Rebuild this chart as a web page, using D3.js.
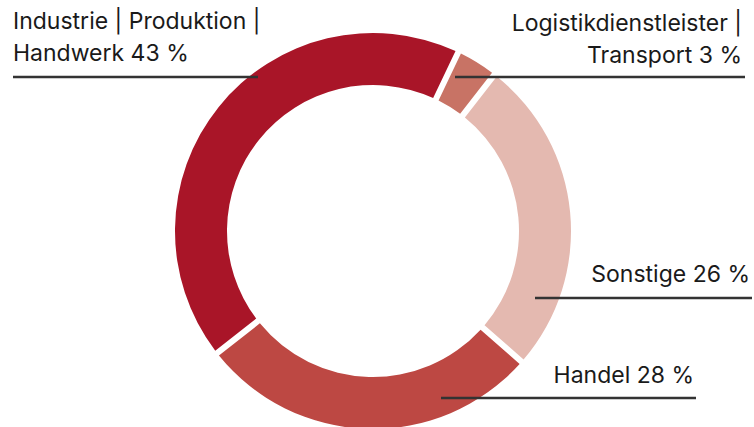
<!DOCTYPE html>
<html>
<head>
<meta charset="utf-8">
<script src="https://cdn.jsdelivr.net/npm/d3@7"></script>
<style>
  html, body { margin: 0; padding: 0; background: #fff; }
  svg { display: block; }
</style>
</head>
<body>
<div id="chart"></div>
<script>
// data, clockwise from the top
const categories = ["Logistikdienstleister | Transport", "Sonstige", "Handel", "Industrie | Produktion | Handwerk"];
const shares = [3, 26, 28, 43];
const colors = ["#c87365", "#e4b9b0", "#bd4843", "#a91528"];
const labelLines = [
  ["Logistikdienstleister |", "Transport 3 %"],
  ["Sonstige 26 %"],
  ["Handel 28 %"],
  ["Industrie | Produktion |", "Handwerk 43 %"]
];

const width = 754, height = 427;
const cx = 373, cy = 231;
const outerR = 198, innerR = 146;
const gap = 6;

// label layout: anchor, text x, last baseline y, underline x0/x1 and y
const layout = [
  { anchor: "end",   x: 742, y: 63,  x0: 455, x1: 745, ly: 77 },
  { anchor: "end",   x: 750, y: 282, x0: 535, x1: 752, ly: 298 },
  { anchor: "end",   x: 694, y: 383, x0: 441, x1: 696, ly: 398 },
  { anchor: "start", x: 13,  y: 61,  x0: 13,  x1: 258, ly: 77 }
];

const svg = d3.select("#chart").append("svg")
  .attr("width", width)
  .attr("height", height);

const pie = d3.pie()
  .sort(null)
  .value(d => d)
  .startAngle(25.5 * Math.PI / 180)
  .endAngle(25.5 * Math.PI / 180 + 2 * Math.PI)
  .padAngle(gap / outerR);

const arc = d3.arc()
  .innerRadius(innerR)
  .outerRadius(outerR)
  .padRadius(outerR);

const g = svg.append("g").attr("transform", `translate(${cx},${cy})`);

g.selectAll("path")
  .data(pie(shares))
  .enter()
  .append("path")
  .attr("d", arc)
  .attr("fill", (d, i) => colors[i]);

// leader underlines
svg.selectAll("line.leader")
  .data(layout)
  .enter()
  .append("line")
  .attr("class", "leader")
  .attr("x1", d => d.x0)
  .attr("x2", d => d.x1)
  .attr("y1", d => d.ly)
  .attr("y2", d => d.ly)
  .attr("stroke", "#333")
  .attr("stroke-width", 2.5);

// labels
const lineH = 32;
svg.selectAll("text.label")
  .data(labelLines)
  .enter()
  .append("text")
  .attr("class", "label")
  .attr("text-anchor", (d, i) => layout[i].anchor)
  .attr("font-family", "Inter, 'Noto Sans', sans-serif")
  .attr("font-size", "23px")
  .attr("fill", "#1a1a1a")
  .each(function (lines, i) {
    const t = d3.select(this);
    const L = layout[i];
    lines.forEach((s, k) => {
      t.append("tspan")
        .attr("x", L.x)
        .attr("y", L.y - (lines.length - 1 - k) * lineH)
        .text(s);
    });
  });
</script>
</body>
</html>
